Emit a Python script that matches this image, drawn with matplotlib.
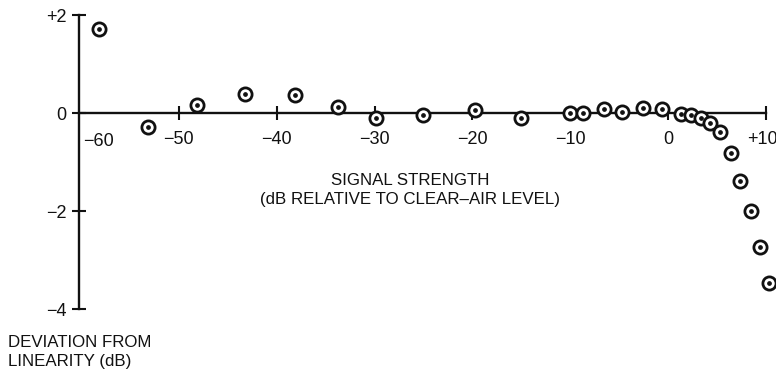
import matplotlib
matplotlib.use("Agg")
import matplotlib.pyplot as plt
import matplotlib.transforms as mtransforms

plt.rcParams['font.family'] = ['Liberation Sans', 'DejaVu Sans']

# Signal strength (dB relative to clear-air level) and deviation from linearity (dB)
signal_db = [-58.1, -53.1, -48.1, -43.2, -38.1, -33.7, -29.9, -25.0, -19.7, -15.0,
             -10.0, -8.7, -6.6, -4.7, -2.6, -0.6, 1.3, 2.3, 3.3, 4.3,
             5.3, 6.4, 7.3, 8.4, 9.4, 10.3]
deviation_db = [1.73, -0.27, 0.16, 0.39, 0.37, 0.13, -0.09, -0.03, 0.07, -0.10,
                0.00, 0.00, 0.09, 0.03, 0.11, 0.08, -0.01, -0.03, -0.10, -0.20,
                -0.39, -0.80, -1.38, -1.99, -2.73, -3.46]

x_ticks = [-50, -40, -30, -20, -10, 0, 10]
x_tick_labels = ["\u221250", "\u221240", "\u221230", "\u221220", "\u221210", "0", "+10"]
y_ticks = [2, 0, -2, -4]
y_tick_labels = ["+2", "0", "\u22122", "\u22124"]

INK = "#111111"

fig = plt.figure(figsize=(7.76, 3.69), dpi=100)
ax = fig.add_axes([0, 0, 1, 1])
ax.set_xlim(-68.25, 11.0)
ax.set_ylim(-5.218, 2.312)

y_axis_x = -60.2
for side in ("top", "right"):
    ax.spines[side].set_visible(False)
ax.spines["left"].set_position(("data", y_axis_x))
ax.spines["left"].set_bounds(-4, 2)
ax.spines["bottom"].set_position(("data", 0))
ax.spines["bottom"].set_bounds(y_axis_x, 10)
for sp in ("left", "bottom"):
    ax.spines[sp].set_linewidth(1.7)
    ax.spines[sp].set_color(INK)

ax.set_xticks(x_ticks)
ax.set_xticklabels(x_tick_labels)
ax.set_yticks(y_ticks)
ax.set_yticklabels(y_tick_labels)
ax.tick_params(axis="x", direction="inout", length=10, width=1.5, pad=8,
               labelsize=13, colors=INK)
ax.tick_params(axis="y", direction="inout", length=10, width=1.5, pad=4,
               labelsize=13, colors=INK)
ax.patch.set_visible(False)

# keep the +10 label inside the right edge
last = ax.get_xticklabels()[-1]
last.set_transform(last.get_transform() +
                   mtransforms.ScaledTranslation(-4 / 100, 0, fig.dpi_scale_trans))

# -60 sits on the vertical axis, so its label is nudged to the right
ax.text(-58.2, -0.58, "\u221260", ha="center", va="center", fontsize=13, color=INK)

# Data points: open circle with a centre dot
ax.plot(signal_db, deviation_db, linestyle="none", marker="o", markersize=9.5,
        markerfacecolor="white", markeredgecolor=INK, markeredgewidth=2.0,
        zorder=3, clip_on=False)
ax.plot(signal_db, deviation_db, linestyle="none", marker="o", markersize=2.4,
        color=INK, zorder=4, clip_on=False)

ax.text(-26.4, -1.57, "SIGNAL STRENGTH\n(dB RELATIVE TO CLEAR\u2013AIR LEVEL)",
        ha="center", va="center", fontsize=12.2, linespacing=1.3, color=INK)
ax.text(-67.4, -4.87, "DEVIATION FROM\nLINEARITY (dB)", ha="left", va="center",
        fontsize=12.2, linespacing=1.3, color=INK)

fig.savefig("out.png", dpi=100)
